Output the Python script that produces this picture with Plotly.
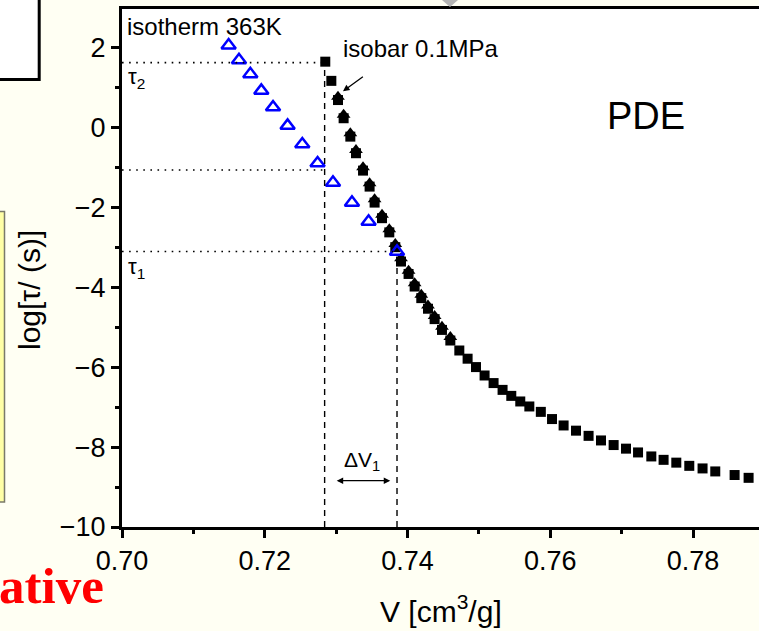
import plotly.graph_objects as go

# ---------------- data ----------------
iso_T_V = [0.71494, 0.71639, 0.71798, 0.71952, 0.72116, 0.72320, 0.72526, 0.72740,
           0.72956, 0.73222, 0.73455, 0.73853]
iso_T_logtau = [2.05, 1.68, 1.33, 0.915, 0.50, 0.04, -0.425, -0.90,
                -1.385, -1.885, -2.36, -3.11]

isobar_V = [0.72848, 0.72933, 0.73026, 0.73105, 0.73199, 0.73278, 0.73377, 0.73469,
            0.73539, 0.73643, 0.73745, 0.73829, 0.73909, 0.74015, 0.74100, 0.74193,
            0.74287, 0.74380, 0.74483, 0.74600, 0.74726, 0.74842, 0.74960, 0.75080,
            0.75206, 0.75332, 0.75454, 0.75580, 0.75707, 0.75868, 0.76025, 0.76187,
            0.76361, 0.76537, 0.76711, 0.76888, 0.77061, 0.77230, 0.77416, 0.77588,
            0.77766, 0.77948, 0.78134, 0.78312, 0.78583, 0.78779]
isobar_logtau = [1.64, 1.16, 0.68, 0.225, -0.235, -0.65, -1.085, -1.485,
                 -1.885, -2.275, -2.63, -3.00, -3.36, -3.67, -3.985, -4.275,
                 -4.54, -4.80, -5.07, -5.335, -5.585, -5.79, -6.00, -6.21,
                 -6.40, -6.57, -6.72, -6.86, -6.985, -7.12, -7.30, -7.46,
                 -7.59, -7.72, -7.835, -7.95, -8.04, -8.135, -8.235, -8.32,
                 -8.39, -8.47, -8.535, -8.61, -8.70, -8.77]

scaled_V = [0.73026, 0.73105, 0.73199, 0.73278, 0.73377, 0.73469, 0.73539, 0.73643,
            0.73745, 0.73829, 0.73909, 0.74015, 0.74100, 0.74193, 0.74287, 0.74380,
            0.74483, 0.74600]
scaled_logtau = [0.76, 0.31, -0.15, -0.57, -1.00, -1.40, -1.80, -2.19,
                 -2.55, -2.92, -3.28, -3.59, -3.90, -4.19, -4.46, -4.72,
                 -4.99, -5.25]

x_ticks = [0.70, 0.72, 0.74, 0.76, 0.78]
x_ticklabels = ["0.70", "0.72", "0.74", "0.76", "0.78"]
y_ticks = [-10, -8, -6, -4, -2, 0, 2]

tau_levels = [1.615, -1.07, -3.11]        # horizontal dotted guide levels
tau_ends = [0.72839, 0.72839, 0.73853]    # where each dotted guide stops
dV_lines = [0.72839, 0.73853]             # vertical dashed guides
dV_tops = [1.615, -3.11]

# ---------------- figure ----------------
W, H = 759, 631
ML, MR, MT, MB = 122, 0, 9, 104
PW, PH = W - ML - MR, H - MT - MB


def pxx(px):
    return (px - ML) / PW


def pxy(py):
    return (MT + PH - py) / PH


fig = go.Figure()

fig.add_trace(go.Scatter(x=isobar_V, y=isobar_logtau, mode="markers",
                         marker=dict(symbol="square", size=10, color="black"),
                         showlegend=False))
fig.add_trace(go.Scatter(x=scaled_V, y=scaled_logtau, mode="markers",
                         marker=dict(symbol="triangle-up", size=12, color="black"),
                         showlegend=False))
fig.add_trace(go.Scatter(x=iso_T_V, y=iso_T_logtau, mode="markers",
                         marker=dict(symbol="triangle-up-open", size=12.5, color="#0000ff",
                                     line=dict(width=2.5, color="#0000ff")),
                         showlegend=False))

shapes = []
# dotted guides
for lev, xe in zip(tau_levels, tau_ends):
    shapes.append(dict(type="line", xref="x", yref="y", x0=0.70, x1=xe, y0=lev, y1=lev,
                       line=dict(color="black", width=1.6, dash="1.6px,5.5px")))
# dashed verticals
for xv, yt in zip(dV_lines, dV_tops):
    shapes.append(dict(type="line", xref="x", yref="y", x0=xv, x1=xv, y0=-10, y1=yt,
                       line=dict(color="black", width=1.4, dash="6px,5px")))
# decorative slide elements
shapes.append(dict(type="rect", xref="paper", yref="paper", layer="below",
                   x0=pxx(-10), x1=pxx(39.2), y0=pxy(79.5), y1=pxy(-10),
                   fillcolor="white", line=dict(color="black", width=3)))
shapes.append(dict(type="rect", xref="paper", yref="paper", layer="below",
                   x0=pxx(-10), x1=pxx(4.5), y0=pxy(502), y1=pxy(211.5),
                   fillcolor="#ffffa6", line=dict(color="#7a7a6a", width=1.5)))
shapes.append(dict(type="path", xref="paper", yref="paper", layer="above",
                   path=f"M {pxx(442)} {pxy(0)} L {pxx(458)} {pxy(0)} L {pxx(450)} {pxy(7)} Z",
                   fillcolor="#b4b4b4", line=dict(width=0)))

font = "Liberation Sans, Arial, sans-serif"
ann = []
ann.append(dict(x=0.70045, y=2.52, xref="x", yref="y", text="isotherm 363K",
                showarrow=False, xanchor="left", yanchor="middle",
                font=dict(family=font, size=24, color="black")))
ann.append(dict(x=0.73075, y=1.98, xref="x", yref="y", text="isobar 0.1MPa",
                showarrow=False, xanchor="left", yanchor="middle",
                font=dict(family=font, size=24, color="black")))
ann.append(dict(x=0.76765, y=0.28, xref="x", yref="y", text="PDE",
                showarrow=False, xanchor="left", yanchor="middle",
                font=dict(family=font, size=38, color="black")))
ann.append(dict(x=0.70060, y=1.22, xref="x", yref="y", text="τ<sub>2</sub>",
                showarrow=False, xanchor="left", yanchor="middle",
                font=dict(family=font, size=22, color="black")))
ann.append(dict(x=0.70060, y=-3.52, xref="x", yref="y", text="τ<sub>1</sub>",
                showarrow=False, xanchor="left", yanchor="middle",
                font=dict(family=font, size=22, color="black")))
ann.append(dict(x=0.73080, y=-8.35, xref="x", yref="y", text="ΔV<sub>1</sub>",
                showarrow=False, xanchor="left", yanchor="middle",
                font=dict(family=font, size=21, color="black")))
# double arrow for delta V
ann.append(dict(x=0.73758, y=-8.84, ax=0.72987, ay=-8.84, xref="x", yref="y",
                axref="x", ayref="y", text="", showarrow=True, arrowhead=2,
                arrowside="end+start", arrowsize=1, arrowwidth=1.3, arrowcolor="black"))
# pointer arrow to isobar
ann.append(dict(x=0.73096, y=0.90, ax=0.73396, ay=1.29, xref="x", yref="y",
                axref="x", ayref="y", text="", showarrow=True, arrowhead=2,
                arrowsize=1, arrowwidth=1.3, arrowcolor="black"))
# axis titles
ann.append(dict(x=pxx(441), y=pxy(609), xref="paper", yref="paper",
                text="V [cm<sup>3</sup>/g]", showarrow=False,
                xanchor="center", yanchor="middle",
                font=dict(family=font, size=30, color="black")))
ann.append(dict(x=pxx(29), y=pxy(290), xref="paper", yref="paper",
                text="log[τ/ (s)]", showarrow=False, textangle=-90,
                xanchor="center", yanchor="middle",
                font=dict(family=font, size=30, color="black")))
# slide fragment text
ann.append(dict(x=pxx(-3), y=pxy(586), xref="paper", yref="paper",
                text="<b>ative</b>", showarrow=False,
                xanchor="left", yanchor="middle",
                font=dict(family="Liberation Serif, Times New Roman, serif", size=51,
                          color="#ff0000")))

fig.update_layout(
    width=W, height=H,
    margin=dict(l=ML, r=MR, t=MT, b=MB, pad=0),
    paper_bgcolor="#fffff3",
    plot_bgcolor="white",
    shapes=shapes,
    annotations=ann,
    showlegend=False,
    font=dict(family=font, color="black"),
)
fig.update_xaxes(range=[0.70, 0.70 + PW / 7137.5], tickvals=x_ticks, ticktext=x_ticklabels,
                 ticks="outside", ticklen=8, tickwidth=3, tickcolor="black",
                 showline=True, linewidth=3, linecolor="black", mirror=True,
                 showgrid=False, zeroline=False,
                 tickfont=dict(family=font, size=27, color="black"),
                 minor=dict(tickvals=[0.71, 0.73, 0.75, 0.77, 0.79], ticks="outside",
                            ticklen=4, tickwidth=3, tickcolor="black"))
fig.update_yaxes(range=[-10, 2.9575], tickvals=y_ticks,
                 ticks="outside", ticklen=8, tickwidth=3, tickcolor="black",
                 showline=True, linewidth=3, linecolor="black", mirror=False,
                 showgrid=False, zeroline=False,
                 tickfont=dict(family=font, size=27, color="black"),
                 minor=dict(tickvals=[-9, -7, -5, -3, -1, 1], ticks="outside",
                            ticklen=4, tickwidth=3, tickcolor="black"))

fig.write_html("out.html")
